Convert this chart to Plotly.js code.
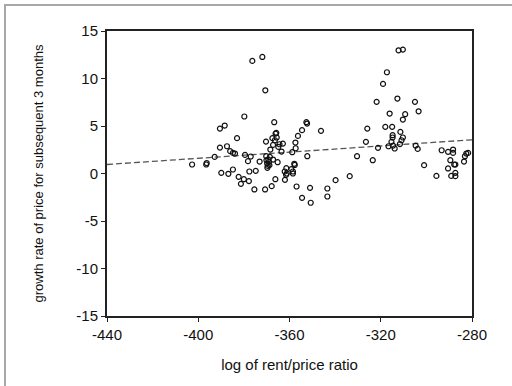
<!DOCTYPE html>
<html>
<head>
<meta charset="utf-8">
<script src="https://cdn.plot.ly/plotly-3.0.1.min.js"></script>
<style>
  html, body { margin: 0; padding: 0; background: #fff; overflow: hidden; }
  #frame { position: absolute; left: 4px; top: 4px; width: 600px; height: 400px; border-left: 2px solid #a8a8a8; border-top: 2px solid #a8a8a8; }
  #chart { position: absolute; left: 0; top: 0; width: 512px; height: 386px; }
</style>
</head>
<body>
<div id="frame"></div>
<div id="chart"></div>
<script>
// log of rent/price ratio
const rentPrice = [
  -402.7, -396.5, -396.3, -390.5, -388.4, -390.5, -392.8, -389.9, -387.4, -386.0,
  -384.8, -383.9, -386.8, -384.8, -383.0, -382.3, -381.3, -380.0, -379.8, -379.5,
  -378.2, -377.8, -377.6, -377.0, -376.3, -375.4, -374.8, -373.1, -371.9, -370.6,
  -370.7, -370.3, -370.2, -370.1, -369.8, -369.5, -369.7, -369.0, -368.8, -368.6,
  -369.3, -368.4, -367.8, -367.2, -367.5, -367.2, -366.7, -366.4, -366.1, -365.6,
  -365.8, -366.2, -365.2, -364.9, -364.4, -363.5, -362.9, -362.1, -362.0, -361.4,
  -361.5, -361.2, -359.2, -358.8, -358.5, -358.5, -357.9, -357.7, -357.3, -357.4,
  -356.9, -356.3, -354.5, -354.5, -352.6, -352.3, -352.2, -351.0, -350.7, -346.2,
  -343.4, -343.4, -339.8, -333.6, -330.4, -326.5, -325.9, -323.5, -321.8, -321.2,
  -319.0, -317.3, -318.0, -316.6, -316.1, -315.0, -314.8, -314.8, -315.3, -314.6,
  -313.9, -312.7, -312.2, -310.3, -311.4, -310.9, -310.3, -310.3, -309.3, -311.6,
  -305.0, -303.4, -304.7, -303.8, -301.0, -295.6, -293.3, -290.5, -290.5, -289.5,
  -289.1, -288.3, -288.3, -287.8, -287.3, -287.3, -287.3, -283.5, -283.1, -282.5,
  -281.7
];
// growth rate of price for subsequent 3 months
const growthRate = [
  0.95, 0.95, 1.10, 4.73, 5.05, 2.73, 1.75, 0.07, 2.87, 2.35,
  2.17, 2.10, -0.03, 0.42, 3.72, -0.35, -1.09, -0.60, 6.00, 1.96,
  1.30, -0.80, 0.21, 1.79, 11.85, -1.68, 0.28, 1.26, 12.27, 8.76,
  -1.68, 3.36, 1.82, 1.40, 1.05, 0.80, 0.60, 1.23, 0.88, 1.75,
  1.47, 2.52, -1.33, 3.01, 3.72, 1.47, 5.40, 3.50, 4.20, 3.79,
  4.28, -0.60, 1.19, 2.80, 3.08, 2.31, 3.15, 0.21, -0.67, 0.56,
  -0.14, 0.00, 0.46, 2.24, 0.00, 0.21, 1.02, 0.90, 2.66, 3.26,
  -1.37, 3.96, 4.56, -2.56, 5.40, 5.26, 1.82, -1.51, -3.08, 4.49,
  -1.58, -2.42, -0.70, -0.28, 1.82, 3.33, 4.73, 1.40, 7.54, 2.70,
  9.43, 10.66, 4.91, 2.87, 6.31, 4.91, 4.03, 3.79, 3.33, 2.94,
  2.63, 7.89, 12.97, 13.04, 4.38, 3.50, 3.79, 5.68, 6.24, 3.10,
  7.54, 6.55, 2.94, 2.59, 0.88, -0.25, 2.45, 2.28, 0.53, 1.40,
  -0.25, 2.52, 2.17, 0.95, 0.07, -0.28, 0.95, 1.26, 1.82, 2.10,
  2.17
];
// fitted regression line
const fitX = [-440, -280];
const fitY = [0.95, 3.55];

const xTicks = [-440, -400, -360, -320, -280];
const yTicks = [-15, -10, -5, 0, 5, 10, 15];

const font = { family: 'Liberation Sans, Arial, sans-serif', color: '#111' };

const traces = [
  {
    x: fitX, y: fitY, type: 'scatter', mode: 'lines',
    line: { color: '#555', width: 1.3, dash: '6px,3px' },
    hoverinfo: 'skip', showlegend: false
  },
  {
    x: rentPrice, y: growthRate, type: 'scatter', mode: 'markers',
    marker: { symbol: 'circle-open', size: 5, color: '#111', line: { width: 1.2, color: '#111' } },
    showlegend: false
  }
];

const layout = {
  width: 512, height: 386,
  margin: { l: 107, r: 40, t: 31, b: 70 },
  paper_bgcolor: 'rgba(0,0,0,0)',
  plot_bgcolor: '#fff',
  font: Object.assign({ size: 13 }, font),
  showlegend: false,
  xaxis: {
    range: [-440, -280], tickvals: xTicks, ticktext: xTicks.map(String),
    showgrid: false, zeroline: false, showline: true, mirror: true,
    linecolor: '#222', linewidth: 2, ticks: 'outside', ticklen: 4, tickcolor: '#222',
    tickfont: Object.assign({ size: 15 }, font),
    title: { text: 'log of rent/price ratio', font: Object.assign({ size: 15 }, font), standoff: 17 }
  },
  yaxis: {
    range: [-15, 15], tickvals: yTicks, ticktext: yTicks.map(String),
    showgrid: false, zeroline: false, showline: true, mirror: true,
    linecolor: '#222', linewidth: 2, ticks: 'outside', ticklen: 4, tickcolor: '#222',
    tickfont: Object.assign({ size: 15 }, font),
    title: { text: 'growth rate of price for subsequent 3 months', font: Object.assign({ size: 13 }, font), standoff: 30 }
  }
};

Plotly.newPlot('chart', traces, layout, { displayModeBar: false, staticPlot: true });
</script>
</body>
</html>
